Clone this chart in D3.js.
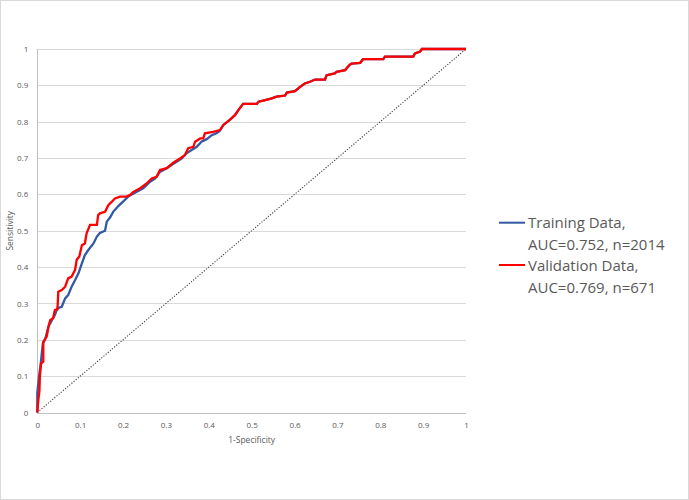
<!DOCTYPE html>
<html>
<head>
<meta charset="utf-8">
<script src="https://cdn.jsdelivr.net/npm/d3@7/dist/d3.min.js"></script>
<style>
  html, body { margin: 0; padding: 0; background: #fff; }
  svg { display: block; }
</style>
</head>
<body>
<div id="chart"></div>
<script>
// ---- Data ----
const xTicks = [0, 0.1, 0.2, 0.3, 0.4, 0.5, 0.6, 0.7, 0.8, 0.9, 1];
const yTicks = [0, 0.1, 0.2, 0.3, 0.4, 0.5, 0.6, 0.7, 0.8, 0.9, 1];

const trainingFPR = [0, 0, 0.005, 0.008, 0.013, 0.018, 0.026, 0.034, 0.041, 0.047, 0.057, 0.065, 0.072, 0.080, 0.088, 0.096, 0.104, 0.111, 0.119, 0.131, 0.139, 0.146, 0.158, 0.162, 0.170, 0.177, 0.189, 0.200, 0.212, 0.232, 0.247, 0.263, 0.275, 0.286, 0.302, 0.313, 0.325, 0.337, 0.348, 0.360, 0.372, 0.383, 0.395, 0.407, 0.418, 0.426, 0.434, 0.449, 0.461, 0.469, 0.480, 0.512, 0.516, 0.527, 0.547, 0.558, 0.578, 0.582, 0.601, 0.613, 0.624, 0.636, 0.648, 0.671, 0.675, 0.694, 0.698, 0.718, 0.728, 0.733, 0.753, 0.760, 0.807, 0.811, 0.877, 0.881, 0.893, 0.897, 1];
const trainingTPR = [0, 0.054, 0.108, 0.135, 0.190, 0.200, 0.236, 0.254, 0.268, 0.287, 0.291, 0.314, 0.323, 0.346, 0.364, 0.383, 0.410, 0.433, 0.447, 0.465, 0.484, 0.494, 0.500, 0.525, 0.537, 0.552, 0.568, 0.580, 0.594, 0.607, 0.617, 0.635, 0.644, 0.662, 0.672, 0.681, 0.690, 0.699, 0.713, 0.722, 0.731, 0.745, 0.752, 0.763, 0.768, 0.775, 0.791, 0.805, 0.818, 0.832, 0.849, 0.849, 0.855, 0.858, 0.864, 0.869, 0.872, 0.880, 0.884, 0.896, 0.905, 0.910, 0.916, 0.916, 0.928, 0.933, 0.937, 0.942, 0.956, 0.960, 0.962, 0.972, 0.972, 0.979, 0.979, 0.988, 0.993, 1.0, 1];

const validationFPR = [0, 0.002, 0.005, 0.006, 0.009, 0.014, 0.014, 0.022, 0.026, 0.030, 0.037, 0.041, 0.047, 0.049, 0.057, 0.065, 0.072, 0.080, 0.088, 0.092, 0.098, 0.104, 0.111, 0.115, 0.123, 0.139, 0.142, 0.146, 0.158, 0.166, 0.174, 0.181, 0.193, 0.208, 0.216, 0.224, 0.240, 0.255, 0.267, 0.279, 0.286, 0.302, 0.317, 0.333, 0.344, 0.352, 0.364, 0.368, 0.380, 0.387, 0.391, 0.410, 0.426, 0.434, 0.449, 0.461, 0.469, 0.480, 0.512, 0.516, 0.527, 0.547, 0.558, 0.578, 0.582, 0.601, 0.613, 0.624, 0.636, 0.648, 0.671, 0.675, 0.694, 0.698, 0.718, 0.728, 0.733, 0.753, 0.760, 0.807, 0.811, 0.877, 0.881, 0.893, 0.897, 1];
const validationTPR = [0, 0.030, 0.060, 0.100, 0.135, 0.140, 0.195, 0.209, 0.236, 0.254, 0.260, 0.282, 0.284, 0.332, 0.337, 0.346, 0.369, 0.374, 0.392, 0.420, 0.429, 0.460, 0.465, 0.493, 0.516, 0.516, 0.543, 0.548, 0.552, 0.571, 0.580, 0.589, 0.594, 0.594, 0.598, 0.607, 0.617, 0.630, 0.644, 0.649, 0.667, 0.672, 0.687, 0.699, 0.708, 0.727, 0.731, 0.745, 0.754, 0.754, 0.768, 0.772, 0.777, 0.791, 0.805, 0.818, 0.832, 0.849, 0.849, 0.855, 0.858, 0.864, 0.869, 0.872, 0.880, 0.884, 0.896, 0.905, 0.910, 0.916, 0.916, 0.928, 0.933, 0.937, 0.942, 0.956, 0.960, 0.962, 0.972, 0.972, 0.979, 0.979, 0.988, 0.993, 1.0, 1];

const diagonal = [0, 1];

const seriesNames = ["Training Data,", "Validation Data,"];
const seriesSub = ["AUC=0.752, n=2014", "AUC=0.769, n=671"];
const seriesColors = ["#3259A5", "#FF0000"];

// ---- Layout ----
const W = 689, H = 500;
const plot = { left: 37.3, right: 466, top: 49, bottom: 412.5 };
const font = "'Open Sans', 'Noto Sans', sans-serif";
const textColor = "#595959";

const svg = d3.select("#chart").append("svg")
  .attr("width", W).attr("height", H);

svg.append("rect")
  .attr("x", 0.5).attr("y", 0.5).attr("width", W - 1).attr("height", H - 1)
  .attr("fill", "#fff").attr("stroke", "#d9d9d9").attr("stroke-width", 1);

const x = d3.scaleLinear().domain([0, 1]).range([plot.left, plot.right]);
const y = d3.scaleLinear().domain([0, 1]).range([plot.bottom, plot.top]);

// gridlines
svg.append("g").selectAll("line")
  .data(yTicks.filter(d => d > 0))
  .join("line")
  .attr("x1", x(0)).attr("x2", x(1))
  .attr("y1", d => Math.round(y(d)) + 0.5).attr("y2", d => Math.round(y(d)) + 0.5)
  .attr("stroke", "#d9d9d9").attr("stroke-width", 1);

// axis lines
svg.append("line")
  .attr("x1", x(0)).attr("x2", x(1))
  .attr("y1", Math.round(y(0)) + 0.5).attr("y2", Math.round(y(0)) + 0.5)
  .attr("stroke", "#bfbfbf").attr("stroke-width", 1);
svg.append("line")
  .attr("x1", Math.round(x(0)) + 0.5).attr("x2", Math.round(x(0)) + 0.5)
  .attr("y1", y(1)).attr("y2", y(0))
  .attr("stroke", "#bfbfbf").attr("stroke-width", 1);

// axes (labels only)
const fmt = d3.format("~g");
const xAxis = svg.append("g")
  .attr("transform", `translate(0,${plot.bottom + 7})`)
  .call(d3.axisBottom(x).tickValues(xTicks).tickSize(0).tickFormat(fmt));
const yAxis = svg.append("g")
  .attr("transform", `translate(${plot.left - 6},0)`)
  .call(d3.axisLeft(y).tickValues(yTicks).tickSize(0).tickFormat(fmt));
[xAxis, yAxis].forEach(a => {
  a.select(".domain").remove();
  a.selectAll("text").attr("fill", textColor)
    .style("font-family", font).style("font-size", "8px");
});

// axis titles
svg.append("text")
  .attr("x", (plot.left + plot.right) / 2).attr("y", 443)
  .attr("text-anchor", "middle").attr("fill", textColor)
  .style("font-family", font).style("font-size", "8.5px")
  .text("1-Specificity");
svg.append("text")
  .attr("transform", `translate(13,${(plot.top + plot.bottom) / 2}) rotate(-90)`)
  .attr("text-anchor", "middle").attr("fill", textColor)
  .style("font-family", font).style("font-size", "8.5px")
  .text("Sensitivity");

// diagonal reference
const line = d3.line().x(d => x(d[0])).y(d => y(d[1]));
svg.append("path")
  .attr("d", line(diagonal.map(v => [v, v])))
  .attr("fill", "none").attr("stroke", "#404040")
  .attr("stroke-width", 1.1).attr("stroke-dasharray", "1.2,1.6");

// series
const series = [
  trainingFPR.map((v, i) => [v, trainingTPR[i]]),
  validationFPR.map((v, i) => [v, validationTPR[i]])
];
series.forEach((pts, i) => {
  svg.append("path")
    .attr("d", line(pts))
    .attr("fill", "none").attr("stroke", seriesColors[i])
    .attr("stroke-width", 2.3).attr("stroke-linejoin", "miter");
});

// legend
const legendLineY = [222.7, 265];
const legendBase = [[227.5, 249.5], [270.5, 292.5]];
seriesNames.forEach((name, i) => {
  svg.append("line")
    .attr("x1", 499).attr("x2", 525)
    .attr("y1", legendLineY[i]).attr("y2", legendLineY[i])
    .attr("stroke", seriesColors[i]).attr("stroke-width", 2);
  svg.append("text")
    .attr("x", 528).attr("y", legendBase[i][0])
    .attr("fill", textColor)
    .style("font-family", font).style("font-size", "15px")
    .text(name);
  svg.append("text")
    .attr("x", 528).attr("y", legendBase[i][1])
    .attr("fill", textColor)
    .style("font-family", font).style("font-size", "15px")
    .text(seriesSub[i]);
});
</script>
</body>
</html>
